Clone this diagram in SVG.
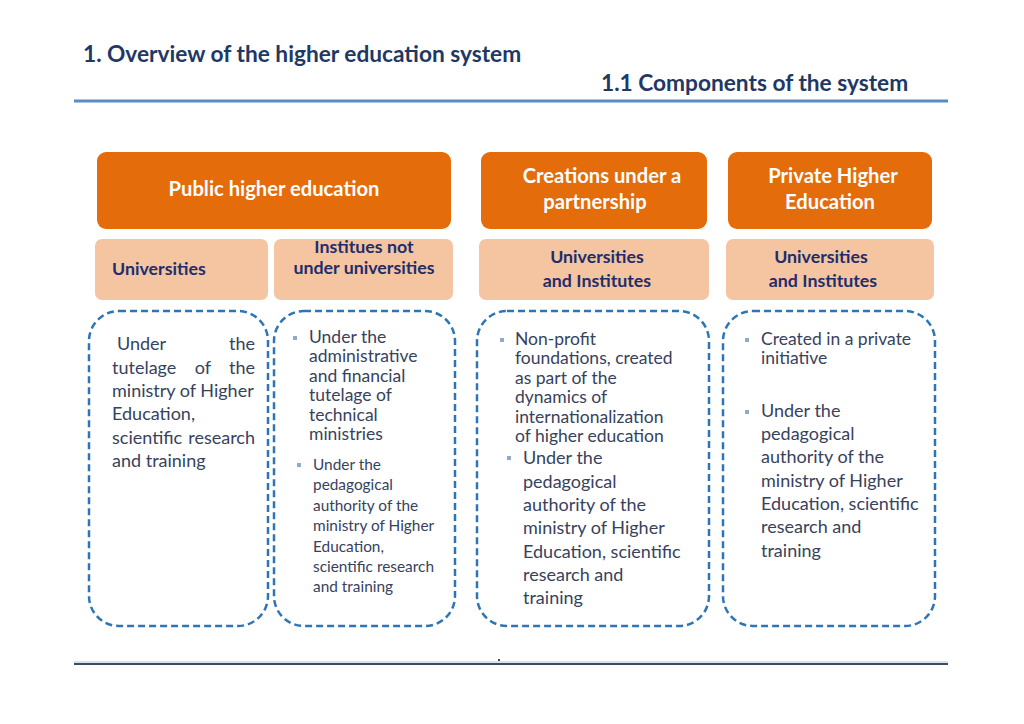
<svg xmlns="http://www.w3.org/2000/svg" width="1024" height="724" viewBox="0 0 1024 724">
<style>
.t{font-family:Lato,"Open Sans","Liberation Sans",sans-serif;}
.title{font-weight:bold;font-size:22.7px;fill:#1f3864;}
.hdr{fill:#e46c0a;}
.sub{fill:#f4c5a0;}
.ht{font-weight:bold;font-size:20.2px;fill:#ffffff;}
.st{font-weight:bold;font-size:17.8px;fill:#1f2d6b;}
.dash{fill:none;stroke:#2e75b6;stroke-width:2.5;stroke-dasharray:7 4;}
.b{font-size:18px;fill:#37425e;}
.b2{font-size:17.5px;fill:#37425e;}
.b3{font-size:15.4px;fill:#37425e;}
.bul{fill:#93a9cc;}
</style>
<rect width="1024" height="724" fill="#ffffff"/>
<g id="header">
<text class="t title" x="83" y="62">1. Overview of the higher education system</text>
<text class="t title" x="601" y="91">1.1 Components of the system</text>
<line x1="74" y1="101" x2="948" y2="101" stroke="#5b8ac6" stroke-width="3"/>
</g>
<g id="public">
<rect class="hdr" x="97" y="152" width="354" height="77" rx="9"/>
<text class="t ht" x="274" y="196" text-anchor="middle">Public higher education</text>
</g>
<g id="creations">
<rect class="hdr" x="481" y="152" width="226" height="77" rx="9"/>
<text class="t ht" x="602" y="183" text-anchor="middle">Creations under a</text>
<text class="t ht" x="595" y="209" text-anchor="middle">partnership</text>
</g>
<g id="private">
<rect class="hdr" x="728" y="152" width="204" height="77" rx="9"/>
<text class="t ht" x="833" y="183" text-anchor="middle">Private Higher</text>
<text class="t ht" x="830" y="209" text-anchor="middle">Education</text>
</g>
<g id="pub-univ">
<rect class="sub" x="95" y="239" width="173" height="61" rx="7"/>
<text class="t st" x="112" y="275">Universities</text>
</g>
<g id="pub-inst">
<rect class="sub" x="274" y="239" width="179" height="61" rx="7"/>
<text class="t st" x="364" y="253" text-anchor="middle">Institues not</text>
<text class="t st" x="364" y="274" text-anchor="middle">under universities</text>
</g>
<g id="part-univ">
<rect class="sub" x="479" y="239" width="230" height="61" rx="7"/>
<text class="t st" x="597" y="263" text-anchor="middle">Universities</text>
<text class="t st" x="597" y="287" text-anchor="middle">and Institutes</text>
</g>
<g id="priv-univ">
<rect class="sub" x="726" y="239" width="208" height="61" rx="7"/>
<text class="t st" x="821" y="263" text-anchor="middle">Universities</text>
<text class="t st" x="823" y="287" text-anchor="middle">and Institutes</text>
</g>
<g id="desc1">
<rect class="dash" x="89" y="311" width="179" height="315" rx="30"/>
<text class="t b" x="117" y="350">Under</text>
<text class="t b" x="255" y="350" text-anchor="end">the</text>
<text class="t b" x="112" y="374">tutelage</text>
<text class="t b" x="203" y="374" text-anchor="middle">of</text>
<text class="t b" x="255" y="374" text-anchor="end">the</text>
<text class="t b" x="112" y="397">ministry of Higher</text>
<text class="t b" x="112" y="420">Education,</text>
<text class="t b" x="112" y="444">scientific</text>
<text class="t b" x="255" y="444" text-anchor="end">research</text>
<text class="t b" x="112" y="467">and training</text>
</g>
<g id="desc2">
<rect class="dash" x="274" y="311" width="181" height="315" rx="30"/>
<rect class="bul" x="293" y="336" width="4" height="4"/>
<text class="t b2" x="309" y="343">Under the</text>
<text class="t b2" x="309" y="362">administrative</text>
<text class="t b2" x="309" y="382">and financial</text>
<text class="t b2" x="309" y="401">tutelage of</text>
<text class="t b2" x="309" y="421">technical</text>
<text class="t b2" x="309" y="440">ministries</text>
<rect class="bul" x="297" y="463" width="4" height="4"/>
<text class="t b3" x="313" y="470">Under the</text>
<text class="t b3" x="313" y="490">pedagogical</text>
<text class="t b3" x="313" y="511">authority of the</text>
<text class="t b3" x="313" y="531">ministry of Higher</text>
<text class="t b3" x="313" y="552">Education,</text>
<text class="t b3" x="313" y="572">scientific research</text>
<text class="t b3" x="313" y="592">and training</text>
</g>
<g id="desc3">
<rect class="dash" x="477" y="311" width="232" height="315" rx="30"/>
<rect class="bul" x="500" y="338" width="4" height="4"/>
<text class="t b2" x="515" y="345">Non-profit</text>
<text class="t b2" x="515" y="364">foundations, created</text>
<text class="t b2" x="515" y="384">as part of the</text>
<text class="t b2" x="515" y="403">dynamics  of</text>
<text class="t b2" x="515" y="423">internationalization</text>
<text class="t b2" x="515" y="442">of higher education</text>
<rect class="bul" x="507" y="456" width="4" height="4"/>
<text class="t b" x="523" y="464">Under the</text>
<text class="t b" x="523" y="488">pedagogical</text>
<text class="t b" x="523" y="511">authority of the</text>
<text class="t b" x="523" y="534">ministry of Higher</text>
<text class="t b" x="523" y="558">Education, scientific</text>
<text class="t b" x="523" y="581">research and</text>
<text class="t b" x="523" y="604">training</text>
</g>
<g id="desc4">
<rect class="dash" x="723" y="311" width="212" height="315" rx="30"/>
<rect class="bul" x="745" y="338" width="4" height="4"/>
<text class="t b2" x="761" y="345">Created in a private</text>
<text class="t b2" x="761" y="364">initiative</text>
<rect class="bul" x="745" y="410" width="4" height="4"/>
<text class="t b" x="761" y="417">Under the</text>
<text class="t b" x="761" y="440">pedagogical</text>
<text class="t b" x="761" y="463">authority of the</text>
<text class="t b" x="761" y="487">ministry of Higher</text>
<text class="t b" x="761" y="510">Education, scientific</text>
<text class="t b" x="761" y="533">research and</text>
<text class="t b" x="761" y="557">training</text>
</g>
<g id="footer">
<line x1="74" y1="662" x2="948" y2="662" stroke="#a9c4e4" stroke-width="1"/>
<line x1="74" y1="664" x2="948" y2="664" stroke="#3d4b5c" stroke-width="2"/>
<rect x="498" y="659" width="2" height="2" fill="#3d4b5c"/>
</g>
</svg>
